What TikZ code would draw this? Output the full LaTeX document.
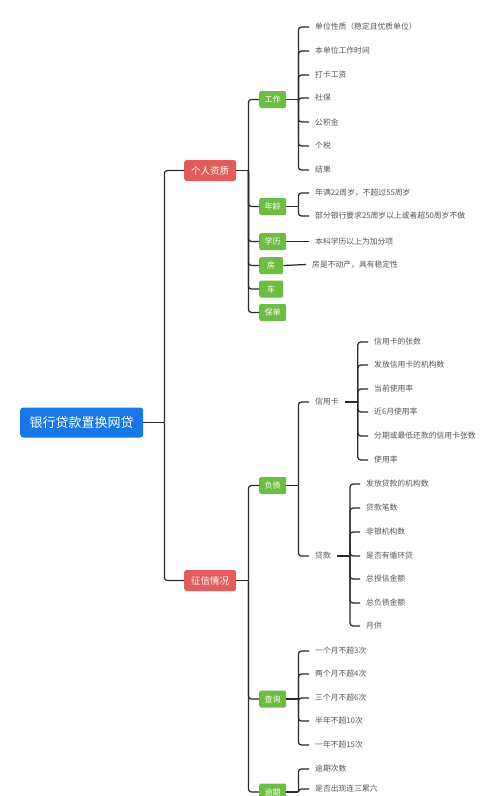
\documentclass[tikz,border=0pt]{standalone}
\usepackage{fontspec}
\setmainfont{Noto Sans CJK SC}
\usetikzlibrary{positioning}
\definecolor{rootblue}{HTML}{1677E6}
\definecolor{topred}{HTML}{E35B5B}
\definecolor{subgreen}{HTML}{6CBD41}
\definecolor{linkdark}{HTML}{2A2A2A}
\definecolor{leafgrey}{HTML}{555555}

\begin{document}
\begin{tikzpicture}[
  x=1pt, y=-1pt,
  rootbox/.style={rectangle, rounded corners=3pt, fill=rootblue, text=white, anchor=west,
    minimum height=30pt, inner xsep=9.5pt, font=\fontsize{13}{15}\selectfont},
  topbox/.style={rectangle, rounded corners=2.5pt, fill=topred, text=white, anchor=west,
    minimum height=21pt, inner xsep=7pt, font=\fontsize{9.5}{11}\selectfont},
  subbox/.style={rectangle, rounded corners=2pt, fill=subgreen, text=white, anchor=west,
    minimum height=17pt, minimum width=24pt, inner xsep=5.5pt, font=\fontsize{8}{10}\selectfont},
  leaf/.style={anchor=west, text=leafgrey, inner xsep=6pt, inner ysep=2pt,
    font=\fontsize{7.8}{9}\selectfont},
  link/.style={draw=linkdark, line width=1.25pt, rounded corners=3pt}
]
\clip (0,0) rectangle (500,796);

% Root and the two main branches
\node[rootbox] (root) at (20,422.5) {银行贷款置换网贷};
\node[topbox] (grzz) at (184,170.5) {个人资质};
\node[topbox] (zxqk) at (184,580.5) {征信情况};
\coordinate[right=21pt of root] (rootT);
\draw[link] (root.east) -- (rootT);
\foreach \c in {grzz,zxqk} \draw[link] (rootT) |- (\c.west);

% Personal qualification: green sub-nodes
\node[subbox] (gz) at (259,99.5) {工作};
\node[subbox] (nl) at (259,206.5) {年龄};
\node[subbox] (xl) at (259,241.5) {学历};
\node[subbox] (fang) at (259,265.5) {房};
\node[subbox] (che) at (259,289) {车};
\node[subbox] (bd) at (259,312.5) {保单};
\coordinate[right=12pt of grzz] (grzzT);
\draw[link] (grzz.east) -- (grzzT);
\foreach \c in {gz,nl,xl,fang,che,bd} \draw[link] (grzzT) |- (\c.west);

% Work
\node[leaf] (gz1) at (309,27) {单位性质（稳定且优质单位）};
\node[leaf] (gz2) at (309,51) {本单位工作时间};
\node[leaf] (gz3) at (309,75) {打卡工资};
\node[leaf] (gz4) at (309,98) {社保};
\node[leaf] (gz5) at (309,122) {公积金};
\node[leaf] (gz6) at (309,146) {个税};
\node[leaf] (gz7) at (309,170) {结果};
\coordinate[right=12pt of gz] (gzT);
\draw[link] (gz.east) -- (gzT);
\foreach \c in {gz1,gz2,gz3,gz4,gz5,gz6,gz7} \draw[link] (gzT) |- (\c.west);

% Age, education, house
\node[leaf] (nl1) at (309,193) {年满22周岁，不超过55周岁};
\node[leaf] (nl2) at (309,216) {部分银行要求25周岁以上或者超50周岁不做};
\coordinate[right=12pt of nl] (nlT);
\draw[link] (nl.east) -- (nlT);
\foreach \c in {nl1,nl2} \draw[link] (nlT) |- (\c.west);
\node[leaf] (xl1) at (309,241.5) {本科学历以上为加分项};
\draw[link] (xl.east) -- (xl1.west);
\node[leaf] (fang1) at (306,264.5) {房是不动产，具有稳定性};
\draw[link] (fang.east) -- (fang1.west);

% Credit report: green sub-nodes
\node[subbox] (fz) at (259,485.5) {负债};
\node[subbox] (cx) at (259,699) {查询};
\node[subbox] (yq) at (259,792) {逾期};
\coordinate[right=12pt of zxqk] (zxqkT);
\draw[link] (zxqk.east) -- (zxqkT);
\foreach \c in {fz,cx,yq} \draw[link] (zxqkT) |- (\c.west);

% Debt: credit cards and loans
\node[leaf] (xyk) at (309,402) {信用卡};
\node[leaf] (dk) at (309,556) {贷款};
\coordinate[right=12pt of fz] (fzT);
\draw[link] (fz.east) -- (fzT);
\foreach \c in {xyk,dk} \draw[link] (fzT) |- (\c.west);

\node[leaf] (xyk1) at (368,342) {信用卡的张数};
\node[leaf] (xyk2) at (368,365) {发放信用卡的机构数};
\node[leaf] (xyk3) at (368,389) {当前使用率};
\node[leaf] (xyk4) at (368,412) {近6月使用率};
\node[leaf] (xyk5) at (368,436) {分期或最低还款的信用卡张数};
\node[leaf] (xyk6) at (368,460) {使用率};
\coordinate[right=13pt of xyk] (xykT);
\draw[link] (xyk.east) -- (xykT);
\foreach \c in {xyk1,xyk2,xyk3,xyk4,xyk5,xyk6} \draw[link] (xykT) |- (\c.west);

\node[leaf] (dk1) at (360,484) {发放贷款的机构数};
\node[leaf] (dk2) at (360,508) {贷款笔数};
\node[leaf] (dk3) at (360,532) {非银机构数};
\node[leaf] (dk4) at (360,556) {是否有循环贷};
\node[leaf] (dk5) at (360,579) {总授信金额};
\node[leaf] (dk6) at (360,603) {总负债金额};
\node[leaf] (dk7) at (360,626) {月供};
\coordinate[right=13pt of dk] (dkT);
\draw[link] (dk.east) -- (dkT);
\foreach \c in {dk1,dk2,dk3,dk4,dk5,dk6,dk7} \draw[link] (dkT) |- (\c.west);

% Queries
\node[leaf] (cx1) at (309,651) {一个月不超3次};
\node[leaf] (cx2) at (309,674) {两个月不超4次};
\node[leaf] (cx3) at (309,698) {三个月不超6次};
\node[leaf] (cx4) at (309,721) {半年不超10次};
\node[leaf] (cx5) at (309,745) {一年不超15次};
\coordinate[right=12pt of cx] (cxT);
\draw[link] (cx.east) -- (cxT);
\foreach \c in {cx1,cx2,cx3,cx4,cx5} \draw[link] (cxT) |- (\c.west);

% Overdue (at the bottom edge)
\node[leaf] (yq1) at (309,769) {逾期次数};
\node[leaf] (yq2) at (309,789) {是否出现连三累六};
\coordinate[right=12pt of yq] (yqT);
\draw[link] (yq.east) -- (yqT);
\foreach \c in {yq1,yq2} \draw[link] (yqT) |- (\c.west);

\end{tikzpicture}
\end{document}
